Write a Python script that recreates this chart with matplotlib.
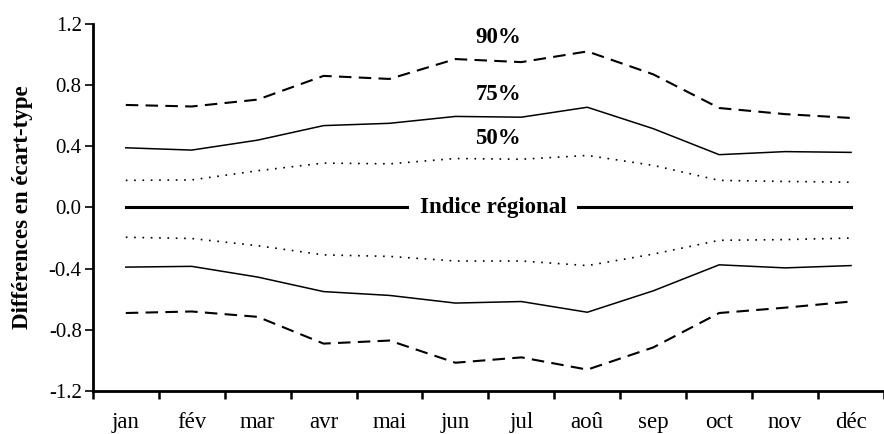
import matplotlib.pyplot as plt
import numpy as np

mois = ["jan", "fév", "mar", "avr", "mai", "jun", "jul", "aoû", "sep", "oct", "nov", "déc"]

# quantiles au-dessus de l'indice régional
p90_haut = [0.67, 0.66, 0.705, 0.86, 0.84, 0.97, 0.95, 1.02, 0.87, 0.65, 0.61, 0.585]
p75_haut = [0.39, 0.375, 0.44, 0.535, 0.55, 0.595, 0.59, 0.655, 0.515, 0.345, 0.365, 0.36]
p50_haut = [0.177, 0.18, 0.24, 0.29, 0.285, 0.32, 0.315, 0.34, 0.275, 0.177, 0.17, 0.165]
# quantiles au-dessous
p50_bas = [-0.195, -0.203, -0.25, -0.31, -0.32, -0.35, -0.35, -0.38, -0.305, -0.215, -0.21, -0.2]
p75_bas = [-0.39, -0.385, -0.455, -0.55, -0.575, -0.625, -0.615, -0.685, -0.545, -0.375, -0.395, -0.38]
p90_bas = [-0.69, -0.68, -0.715, -0.89, -0.87, -1.015, -0.98, -1.06, -0.915, -0.69, -0.655, -0.615]
indice = [0.0] * 12

yticks = [-1.2, -0.8, -0.4, 0.0, 0.4, 0.8, 1.2]

plt.rcParams['font.family'] = ['Liberation Serif', 'DejaVu Serif']

fig = plt.figure(figsize=(8.84, 4.34), dpi=100)
ax = fig.add_axes([0.105, 0.099, 0.895, 0.846])

x = np.arange(len(mois))
ax.plot(x, p90_haut, color="black", lw=1.5, ls=(0, (6, 3.5)))
ax.plot(x, p90_bas, color="black", lw=1.5, ls=(0, (6, 3.5)))
ax.plot(x, p75_haut, color="black", lw=1.1)
ax.plot(x, p75_bas, color="black", lw=1.1)
ax.plot(x, p50_haut, color="black", lw=1.2, ls=(0, (1, 4)))
ax.plot(x, p50_bas, color="black", lw=1.2, ls=(0, (1, 4)))
ax.plot(x, indice, color="black", lw=2.2)

ax.text(5.57, 0.0, "Indice régional", ha="center", va="center", fontsize=16.5,
        fontweight="bold", bbox=dict(facecolor="white", edgecolor="none", pad=8))
ax.text(5.65, 1.11, "90%", ha="center", va="center", fontsize=16.5, fontweight="bold")
ax.text(5.65, 0.74, "75%", ha="center", va="center", fontsize=16.5, fontweight="bold")
ax.text(5.65, 0.45, "50%", ha="center", va="center", fontsize=16.5, fontweight="bold")

ax.set_xlim(-0.5, 11.44)
ax.set_ylim(-1.2, 1.2)
ax.set_yticks(yticks)
ax.set_yticklabels(["%.1f" % v for v in yticks], fontsize=15)
ax.set_xticks(np.arange(-0.5, 12, 1.0))
ax.set_xticklabels([])
ax.set_xticks(x, minor=True)
ax.set_xticklabels(mois, minor=True, fontsize=16.5)
ax.tick_params(axis="x", which="minor", length=0, pad=15)
ax.tick_params(axis="x", which="major", length=6, width=1.8, direction="out")
ax.tick_params(axis="y", length=6, width=1.2, direction="out", pad=2)
ax.set_ylabel("Différences en écart-type", fontsize=16.5, fontweight="bold", labelpad=11)

for s in ["top", "right"]:
    ax.spines[s].set_visible(False)
ax.spines["left"].set_linewidth(2)
ax.spines["bottom"].set_linewidth(2)

fig.savefig("out.png", dpi=100)
